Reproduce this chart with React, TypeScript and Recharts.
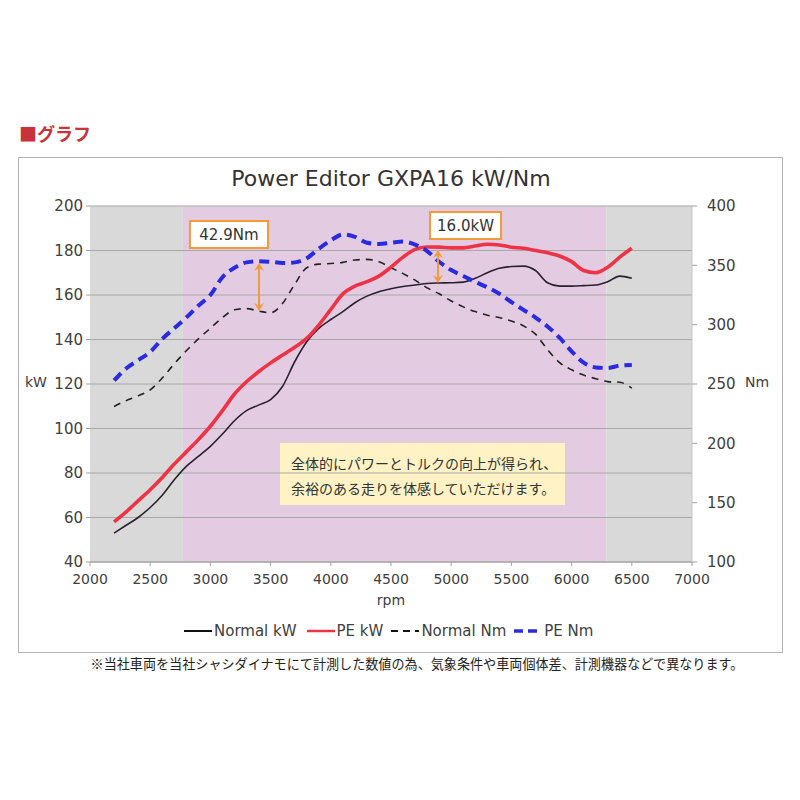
import React from 'react';
import {
  ComposedChart,
  Line,
  XAxis,
  YAxis,
  ReferenceArea,
  ReferenceLine,
} from 'recharts';

// ---------- data ----------
const rpm = [
  2200, 2300, 2400, 2500, 2600, 2700, 2800, 2900, 3000, 3100, 3200, 3300, 3400, 3500, 3600,
  3700, 3800, 3900, 4000, 4100, 4200, 4300, 4400, 4500, 4600, 4700, 4800, 4900, 5000, 5100,
  5200, 5300, 5400, 5500, 5600, 5700, 5800, 5900, 6000, 6100, 6200, 6300, 6400, 6500,
];
const normalKw = [
  53, 56.5, 60, 64.5, 70, 77, 83, 87.5, 92, 97.5, 103.5, 108, 110.5, 113, 119,
  130, 139, 145, 149, 152.5, 156.5, 159.5, 161.5, 162.8, 163.8, 164.5, 165.2, 165.4, 165.5, 165.8,
  167.5, 170, 172, 172.8, 173, 171, 165.5, 164, 164, 164.2, 164.5, 166, 168.5, 167.5,
];
const peKw = [
  58, 62.5, 67.5, 72.5, 78, 84, 89.5, 95, 101, 108, 115.5, 121, 125.5, 129.5, 133,
  136.5, 140.5, 146.5, 153.5, 160.5, 164, 166, 168.5, 172.5, 177, 180.5, 181.6, 181.5, 181.2, 181.2,
  182, 182.8, 182.5, 181.5, 181, 180, 179, 177.5, 175, 171, 170, 172.5, 177, 181,
];
const normalNm = [
  231, 236, 240, 245, 255, 267, 278, 288, 297, 306, 312.5, 313.5, 311.5, 310, 318,
  334, 348, 351, 351.5, 352.5, 354.5, 355, 353, 348, 343, 337.5, 331, 326, 320, 315,
  311, 308, 306, 303, 299, 292, 279, 268, 262, 257.5, 254.5, 252, 251.5, 246.5,
];
const peNm = [
  253, 263, 270, 277, 288, 297, 306, 316, 325, 340, 348, 352.5, 353.5, 353, 352,
  352.5, 356, 364, 371, 376, 374, 369, 368, 369, 370, 367.5, 362, 353, 346, 341,
  336, 331.5, 326, 319, 312.5, 306, 298.5, 289, 277.5, 268, 264, 263.5, 265.5, 266,
];

const xTicks = [2000, 2500, 3000, 3500, 4000, 4500, 5000, 5500, 6000, 6500, 7000];
const kwTicks = [40, 60, 80, 100, 120, 140, 160, 180, 200];
const nmTicks = [100, 150, 200, 250, 300, 350, 400];

// shaded rpm bands
const bandEdges = [2000, 2772, 6290, 7000];

const data = rpm.map((r, i) => ({
  rpm: r,
  normalKw: normalKw[i],
  peKw: peKw[i],
  normalNm: normalNm[i],
  peNm: peNm[i],
}));

const LATIN = '"DejaVu Sans", Verdana, sans-serif';
const JP = '"Noto Sans CJK JP", "DejaVu Sans", sans-serif';
const ORANGE = '#f39a3a';
const TXT = '#404040';

const DoubleArrow = (props: any) => {
  const { x1, y1, x2, y2 } = props;
  const x = x1;
  const top = Math.min(y1, y2);
  const bot = Math.max(y1, y2);
  const h = 6;
  const w = 5;
  return (
    <g>
      <line x1={x} y1={top + 2} x2={x} y2={bot - 2} stroke={ORANGE} strokeWidth={2} />
      <polygon points={`${x},${top} ${x - w},${top + h + 2} ${x},${top + h - 1} ${x + w},${top + h + 2}`} fill={ORANGE} />
      <polygon points={`${x},${bot} ${x - w},${bot - h - 2} ${x},${bot - h + 1} ${x + w},${bot - h - 2}`} fill={ORANGE} />
    </g>
  );
};

const LegendSample = ({ color, width, dash }: { color: string; width: number; dash?: string }) => (
  <svg width={28} height={10} style={{ display: 'inline-block', verticalAlign: 'middle', marginRight: 2 }}>
    <line x1={0} y1={5} x2={28} y2={5} stroke={color} strokeWidth={width} strokeDasharray={dash} />
  </svg>
);

export default function App() {
  return (
    <div
      style={{
        position: 'absolute',
        left: 0,
        top: 0,
        width: 800,
        height: 800,
        background: '#ffffff',
        fontFamily: LATIN,
      }}
    >
      {/* header */}
      <div
        style={{
          position: 'absolute',
          left: 19,
          top: 120,
          fontFamily: JP,
          fontWeight: 700,
          fontSize: 18,
          color: '#c8323a',
        }}
      >
        ■グラフ
      </div>

      {/* chart frame */}
      <div
        style={{
          position: 'absolute',
          left: 18,
          top: 157,
          width: 763,
          height: 494,
          border: '1px solid #b4b4b4',
          background: '#fff',
        }}
      />

      {/* title */}
      <div
        style={{
          position: 'absolute',
          left: 90,
          width: 602,
          top: 166,
          textAlign: 'center',
          fontSize: 22,
          color: '#333',
          fontFamily: LATIN,
        }}
      >
        Power Editor GXPA16 kW/Nm
      </div>

      <div style={{ position: 'absolute', left: 18, top: 157 }}>
        <ComposedChart
          width={764}
          height={495}
          data={data}
          margin={{ top: 49, right: 30, left: 22, bottom: 60 }}
        >
          <XAxis
            dataKey="rpm"
            type="number"
            domain={[2000, 7000]}
            ticks={xTicks}
            interval={0}
            height={30}
            tickSize={4}
            tickMargin={8}
            stroke="#a0a0a0"
            tick={{ fill: TXT, fontSize: 14, fontFamily: LATIN }}
          />
          <YAxis
            yAxisId="kw"
            orientation="left"
            domain={[40, 200]}
            ticks={kwTicks}
            interval={0}
            width={50}
            tickSize={4}
            tickMargin={3}
            axisLine={false}
            stroke="#a0a0a0"
            tick={{ fill: TXT, fontSize: 15, fontFamily: LATIN }}
          />
          <YAxis
            yAxisId="nm"
            orientation="right"
            domain={[100, 400]}
            ticks={nmTicks}
            interval={0}
            width={60}
            tickSize={5}
            tickMargin={10}
            axisLine={{ stroke: '#c8c8c8' }}
            stroke="#a0a0a0"
            tick={{ fill: TXT, fontSize: 15, fontFamily: LATIN }}
          />

          <ReferenceArea yAxisId="kw" x1={bandEdges[0]} x2={bandEdges[1]} y1={40} y2={200} fill="#d9d9d9" fillOpacity={1} stroke="none" />
          <ReferenceArea yAxisId="kw" x1={bandEdges[1]} x2={bandEdges[2]} y1={40} y2={200} fill="#e3cce2" fillOpacity={1} stroke="none" />
          <ReferenceArea yAxisId="kw" x1={bandEdges[2]} x2={bandEdges[3]} y1={40} y2={200} fill="#d9d9d9" fillOpacity={1} stroke="none" />

          {kwTicks.map((t) => (
            <ReferenceLine key={t} yAxisId="kw" y={t} stroke="#a8a8a8" strokeWidth={1} />
          ))}

          {/* note box */}
          <ReferenceArea
            yAxisId="kw"
            x1={3578}
            x2={5945}
            y1={65.6}
            y2={93.5}
            fill="#fff3c6"
            fillOpacity={1}
            stroke="none"
          />

          <Line yAxisId="nm" type="monotone" dataKey="normalNm" stroke="#222" strokeWidth={1.6} strokeDasharray="7 6" dot={false} isAnimationActive={false} />
          <Line yAxisId="kw" type="monotone" dataKey="normalKw" stroke="#2a2030" strokeWidth={1.6} dot={false} isAnimationActive={false} />
          <Line yAxisId="kw" type="monotone" dataKey="peKw" stroke="#ee3346" strokeWidth={3.6} dot={false} isAnimationActive={false} />
          <Line yAxisId="nm" type="monotone" dataKey="peNm" stroke="#2a2ae0" strokeWidth={4} strokeDasharray="10 6" dot={false} isAnimationActive={false} />

          {/* annotation arrows */}
          <ReferenceLine
            yAxisId="nm"
            segment={[{ x: 3404, y: 352 }, { x: 3404, y: 311.5 }]}
            stroke={ORANGE}
            shape={DoubleArrow}
          />
          <ReferenceLine
            yAxisId="kw"
            segment={[{ x: 4890, y: 180.2 }, { x: 4890, y: 165.4 }]}
            stroke={ORANGE}
            shape={DoubleArrow}
          />

          {/* annotation labels */}
          <ReferenceArea
            yAxisId="kw"
            x1={2830}
            x2={3478}
            y1={181.1}
            y2={193.3}
            fill="#ffffff"
            fillOpacity={1}
            stroke={ORANGE}
            strokeWidth={2}
            label={{ value: '42.9Nm', position: 'center', fill: '#333', fontSize: 15, fontFamily: LATIN }}
          />
          <ReferenceArea
            yAxisId="kw"
            x1={4824}
            x2={5414}
            y1={185.2}
            y2={197.3}
            fill="#ffffff"
            fillOpacity={1}
            stroke={ORANGE}
            strokeWidth={2}
            label={{ value: '16.0kW', position: 'center', fill: '#333', fontSize: 15, fontFamily: LATIN }}
          />
        </ComposedChart>
      </div>

      {/* note text */}
      <div
        style={{
          position: 'absolute',
          left: 291,
          top: 451,
          fontFamily: JP,
          fontSize: 14,
          lineHeight: '25px',
          color: '#333',
          whiteSpace: 'nowrap',
        }}
      >
        <div>全体的にパワーとトルクの向上が得られ、</div>
        <div>余裕のある走りを体感していただけます。</div>
      </div>

      {/* axis titles */}
      <div style={{ position: 'absolute', left: 25, top: 374, fontSize: 14, color: TXT }}>kW</div>
      <div style={{ position: 'absolute', left: 745, top: 374, fontSize: 14, color: TXT }}>Nm</div>
      <div style={{ position: 'absolute', left: 90, width: 602, top: 592, textAlign: 'center', fontSize: 14, color: TXT }}>rpm</div>

      {/* legend */}
      <div
        style={{
          position: 'absolute',
          left: 184,
          top: 622,
          fontSize: 15,
          color: TXT,
          whiteSpace: 'nowrap',
          display: 'flex',
          alignItems: 'center',
        }}
      >
        <LegendSample color="#111" width={2} />
        <span style={{ marginRight: 10 }}>Normal kW</span>
        <LegendSample color="#ee3346" width={2.5} />
        <span style={{ marginRight: 8 }}>PE kW</span>
        <LegendSample color="#111" width={2} dash="7 5" />
        <span style={{ marginRight: 8 }}>Normal Nm</span>
        <LegendSample color="#2a2ae0" width={3.5} dash="9 5" />
        <span>PE Nm</span>
      </div>

      {/* footnote */}
      <div
        style={{
          position: 'absolute',
          left: 0,
          width: 834,
          top: 654,
          textAlign: 'center',
          fontFamily: JP,
          fontSize: 13.1,
          color: '#222',
          whiteSpace: 'nowrap',
        }}
      >
        ※当社車両を当社シャシダイナモにて計測した数値の為、気象条件や車両個体差、計測機器などで異なります。
      </div>
    </div>
  );
}
